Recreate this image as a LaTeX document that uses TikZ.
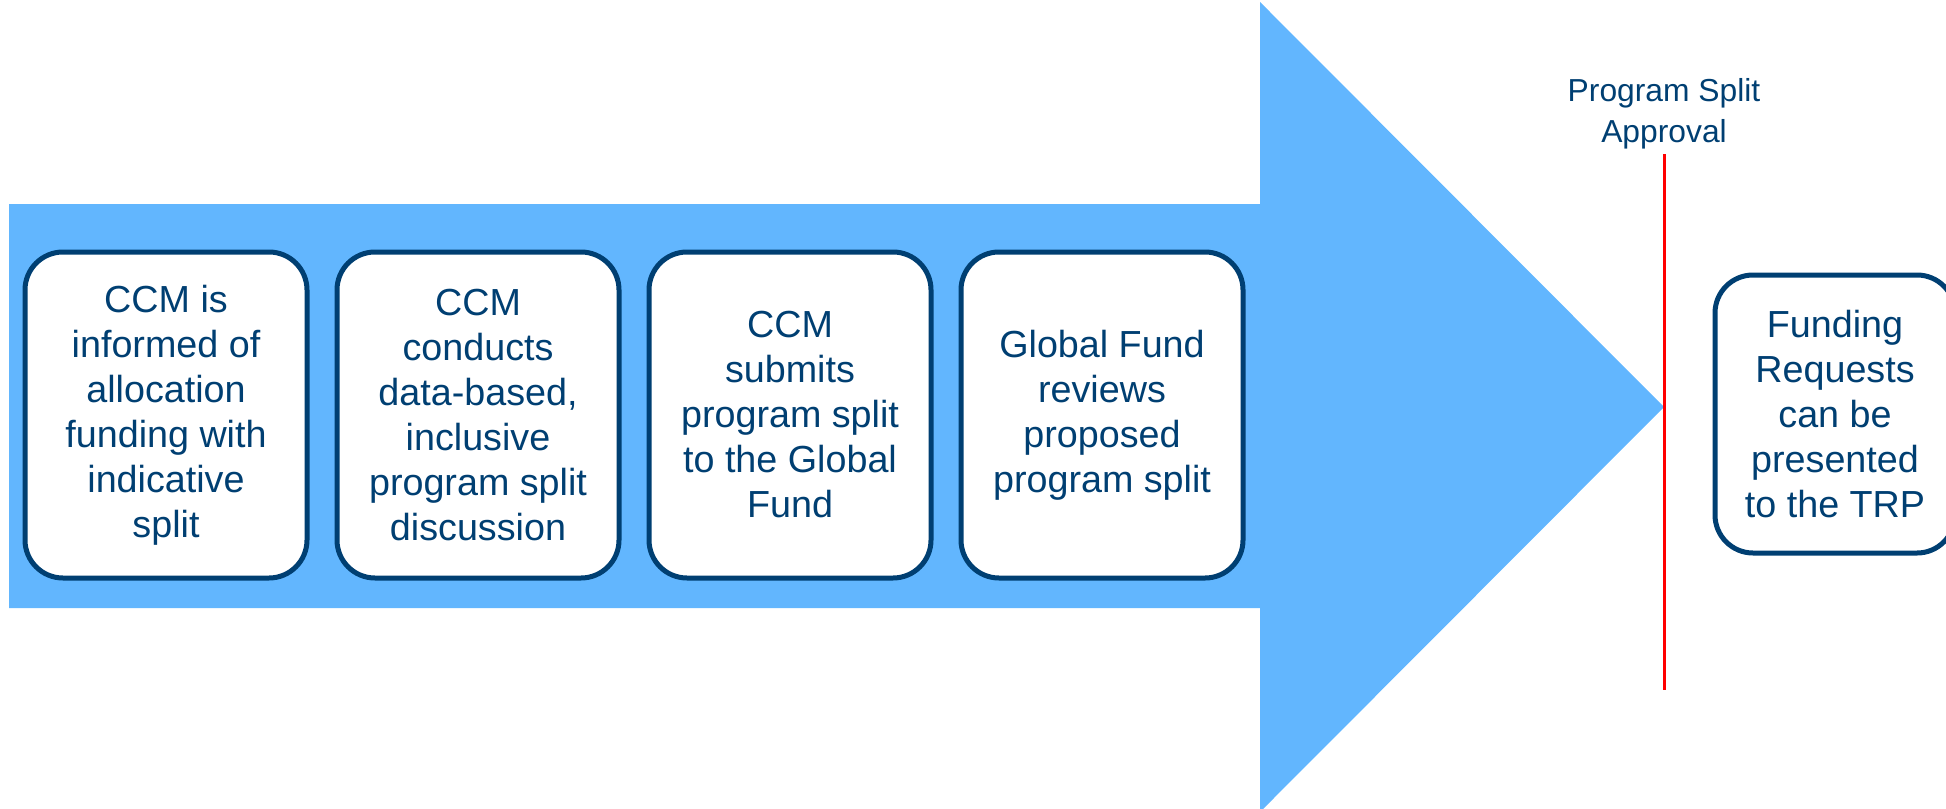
\documentclass[tikz,border=0pt]{standalone}
\usepackage{fontspec}
\setmainfont{Liberation Sans}
\usepackage{tikz}

\definecolor{arrowblue}{RGB}{98,182,254}
\definecolor{navy}{RGB}{0,63,114}

\begin{document}
\begin{tikzpicture}[x=0.5pt,y=-0.5pt,node distance=156pt,
                    semithick]
\tikzstyle{stepbox}=[draw=navy,line width=2.5pt,fill=white,text=navy,rounded corners=19pt,align=center,minimum width=141pt,minimum height=163pt,inner sep=0pt]
\tikzset{font=\fontsize{18.85pt}{22.5pt}\selectfont}

        \useasboundingbox (0,0) rectangle (1946,808);
        \fill[arrowblue] (9,204) -- (1260,204) -- (1260,2) -- (1664,407) -- (1260,812) -- (1260,608) -- (9,608) -- cycle;

        \node[stepbox]              (1)   at (166,415)     {CCM is\\informed of\\allocation\\funding with\\indicative\\split};
        \node[stepbox]              (2)   [right of=1]     {CCM\\conducts\\data-based,\\inclusive\\program split\\discussion};
        \node[stepbox]              (3)   [right of=2]     {CCM\\submits\\program split\\to the Global\\Fund};
        \node[stepbox]              (4)   [right of=3]     {Global Fund\\reviews\\proposed\\program split};
        \node[stepbox,minimum width=120pt,minimum height=139pt]
                                    (5)   at (1835,414)    {Funding\\Requests\\can be\\presented\\to the TRP};

        \coordinate (top) at (1664,154);
        \coordinate (bot) at (1664,690);
        \draw[red,line width=1.5pt] (top) -- (bot);
        \node[text=navy,align=center,font=\fontsize{15.9pt}{20.5pt}\selectfont]
                                    (approval) at (1664,114) {Program Split\\Approval};
\end{tikzpicture}
\end{document}
